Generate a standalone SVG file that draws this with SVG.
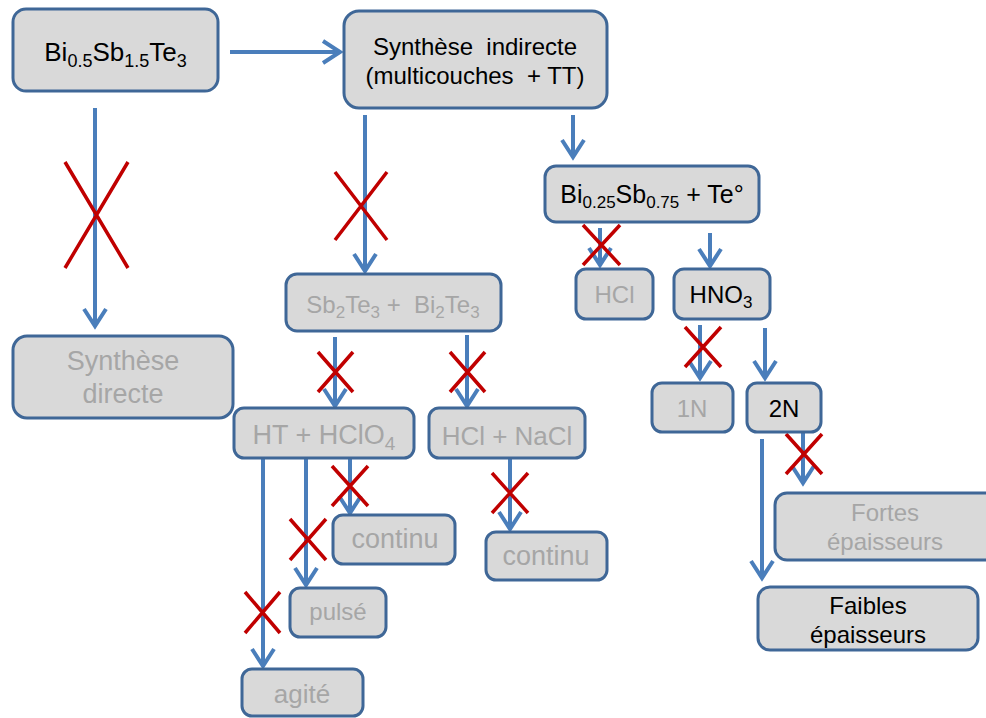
<svg xmlns="http://www.w3.org/2000/svg" width="986" height="718" viewBox="0 0 986 718">
<defs>
<style>
.box{fill:#d9d9d9;stroke:#3f6797;stroke-width:3}
.t{font-family:"Liberation Sans",Arial,sans-serif;font-size:24px;text-anchor:middle;fill:#000}
.g{fill:#a6a6a6}
.arr{stroke:#4a7ebb;stroke-width:4;fill:none;marker-end:url(#ah)}
.x{stroke:#c00000;stroke-width:3.5;fill:none}
</style>
<marker id="ah" viewBox="-20 -14 24 28" markerWidth="24" markerHeight="28" refX="-1" refY="0" orient="auto" markerUnits="userSpaceOnUse">
<path d="M-17,-11 L0,0 L-17,11" fill="none" stroke="#4a7ebb" stroke-width="4"/>
</marker>
</defs>
<g id="connectors">
<line class="arr" x1="230" y1="52" x2="339" y2="52"/>
<line class="arr" x1="95" y1="108" x2="95" y2="325"/>
<line class="arr" x1="365" y1="115" x2="365" y2="270"/>
<line class="arr" x1="573" y1="115" x2="573" y2="156"/>
<line class="arr" x1="600" y1="228" x2="600" y2="264"/>
<line class="arr" x1="710" y1="233" x2="710" y2="265"/>
<line class="arr" x1="335" y1="337" x2="335" y2="405"/>
<line class="arr" x1="467" y1="335" x2="467" y2="405"/>
<line class="arr" x1="263" y1="457" x2="263" y2="665"/>
<line class="arr" x1="306" y1="457" x2="306" y2="584"/>
<line class="arr" x1="350" y1="457" x2="350" y2="512"/>
<line class="arr" x1="510" y1="458" x2="510" y2="528"/>
<line class="arr" x1="700" y1="325" x2="700" y2="377"/>
<line class="arr" x1="765" y1="328" x2="765" y2="377"/>
<line class="arr" x1="762" y1="439" x2="762" y2="577"/>
<line class="arr" x1="803" y1="432" x2="803" y2="482"/>
<path class="x" d="M65,162 L128,268 M128,162 L65,268"/>
<path class="x" d="M335,172 L387,240 M387,172 L335,240"/>
<path class="x" d="M583,225 L620,265 M620,225 L583,265"/>
<path class="x" d="M318,352 L353,392 M353,352 L318,392"/>
<path class="x" d="M450,352 L485,392 M485,352 L450,392"/>
<path class="x" d="M332,466 L368,506 M368,466 L332,506"/>
<path class="x" d="M290,519 L326,560 M326,519 L290,560"/>
<path class="x" d="M245,592 L280,633 M280,592 L245,633"/>
<path class="x" d="M492,473 L528,513 M528,473 L492,513"/>
<path class="x" d="M685,327 L721,367 M721,327 L685,367"/>
<path class="x" d="M786,434 L822,474 M822,434 L786,474"/>
</g>
<g id="n-bisbte">
<rect class="box" x="13" y="9" width="205" height="82" rx="13"/>
<text class="t" x="115.5" y="61" style="font-size:26px">Bi<tspan style="font-size:18px" dy="6">0.5</tspan><tspan dy="-6">Sb</tspan><tspan style="font-size:18px" dy="6">1.5</tspan><tspan dy="-6">Te</tspan><tspan style="font-size:18px" dy="6">3</tspan></text>
</g>
<g id="n-indirecte">
<rect class="box" x="344" y="11" width="263" height="97" rx="15"/>
<text class="t" x="475" y="55" xml:space="preserve">Synthèse  indirecte</text>
<text class="t" x="475" y="84" xml:space="preserve">(multicouches  + TT)</text>
</g>
<g id="n-directe">
<rect class="box" x="13" y="336" width="220" height="82" rx="14"/>
<text class="t g" x="123" y="370" style="font-size:27px">Synthèse</text>
<text class="t g" x="123" y="403" style="font-size:27px">directe</text>
</g>
<g id="n-bisb-te">
<rect class="box" x="545" y="166" width="214" height="56" rx="11"/>
<text class="t" x="652" y="203" style="font-size:25px">Bi<tspan style="font-size:17px" dy="5">0.25</tspan><tspan dy="-5">Sb</tspan><tspan style="font-size:17px" dy="5">0.75</tspan><tspan dy="-5"> + Te°</tspan></text>
</g>
<g id="n-hcl">
<rect class="box" x="576" y="269" width="77" height="50" rx="10"/>
<text class="t g" x="614.5" y="303">HCl</text>
</g>
<g id="n-hno3">
<rect class="box" x="674" y="269" width="96" height="50" rx="10"/>
<text class="t" x="721" y="303">HNO<tspan style="font-size:17px" dy="5">3</tspan></text>
</g>
<g id="n-sbte-bite">
<rect class="box" x="286" y="274" width="215" height="57" rx="11"/>
<text class="t g" x="393" y="313">Sb<tspan style="font-size:17px" dy="5">2</tspan><tspan dy="-5">Te</tspan><tspan style="font-size:17px" dy="5">3</tspan><tspan dy="-5" xml:space="preserve"> +  Bi</tspan><tspan style="font-size:17px" dy="5">2</tspan><tspan dy="-5">Te</tspan><tspan style="font-size:17px" dy="5">3</tspan></text>
</g>
<g id="n-ht">
<rect class="box" x="234" y="408" width="180" height="50" rx="10"/>
<text class="t g" x="324" y="444" style="font-size:27px">HT + HClO<tspan style="font-size:19px" dy="6">4</tspan></text>
</g>
<g id="n-hclnacl">
<rect class="box" x="429" y="408" width="156" height="50" rx="10"/>
<text class="t g" x="507" y="445" style="font-size:26px">HCl + NaCl</text>
</g>
<g id="n-continu1">
<rect class="box" x="333" y="515" width="122" height="49" rx="10"/>
<text class="t g" x="395" y="548" style="font-size:27px">continu</text>
</g>
<g id="n-pulse">
<rect class="box" x="290" y="588" width="96" height="49" rx="10"/>
<text class="t g" x="338" y="620">pulsé</text>
</g>
<g id="n-agite">
<rect class="box" x="242" y="669" width="121" height="47" rx="10"/>
<text class="t g" x="302" y="703" style="font-size:26px">agité</text>
</g>
<g id="n-continu2">
<rect class="box" x="486" y="532" width="121" height="48" rx="10"/>
<text class="t g" x="546" y="565" style="font-size:27px">continu</text>
</g>
<g id="n-1n">
<rect class="box" x="652" y="383" width="81" height="49" rx="10"/>
<text class="t g" x="692" y="417">1N</text>
</g>
<g id="n-2n">
<rect class="box" x="747" y="383" width="74" height="49" rx="10"/>
<text class="t" x="784" y="417">2N</text>
</g>
<g id="n-fortes">
<rect class="box" x="775" y="493" width="230" height="67" rx="12"/>
<text class="t g" x="885" y="521">Fortes</text>
<text class="t g" x="885" y="550">épaisseurs</text>
</g>
<g id="n-faibles">
<rect class="box" x="758" y="587" width="220" height="63" rx="12"/>
<text class="t" x="868" y="614">Faibles</text>
<text class="t" x="868" y="643">épaisseurs</text>
</g>
</svg>
